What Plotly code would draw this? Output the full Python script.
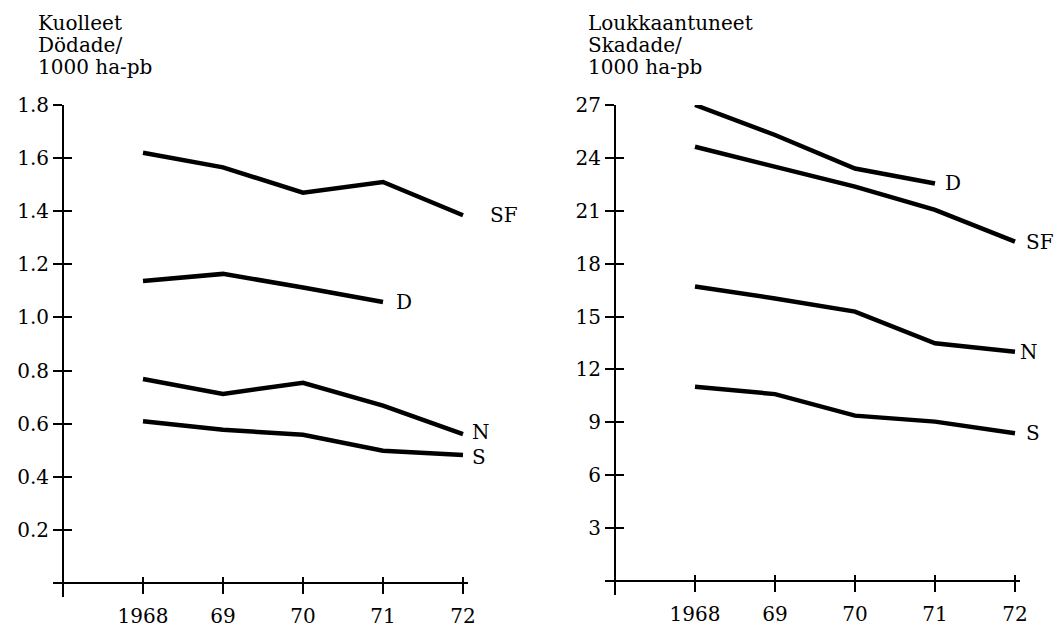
import plotly.graph_objects as go

# ---------------- data ----------------
years = [1968, 1969, 1970, 1971, 1972]
year_labels = ["1968", "69", "70", "71", "72"]

# Left panel: Kuolleet / Dödade per 1000 ha-pb
dead_SF = [1.62, 1.565, 1.47, 1.51, 1.385]
dead_D = [1.137, 1.164, 1.113, 1.058]
dead_N = [0.768, 0.712, 0.754, 0.668, 0.561]
dead_S = [0.609, 0.577, 0.558, 0.498, 0.482]

# Right panel: Loukkaantuneet / Skadade per 1000 ha-pb
inj_D = [27.0, 25.3, 23.4, 22.55]
inj_SF = [24.63, 23.5, 22.37, 21.05, 19.25]
inj_N = [16.7, 16.03, 15.28, 13.48, 13.0]
inj_S = [11.02, 10.6, 9.38, 9.04, 8.38]

left_ticks = [0.2, 0.4, 0.6, 0.8, 1.0, 1.2, 1.4, 1.6, 1.8]
right_ticks = [3, 6, 9, 12, 15, 18, 21, 24, 27]

left_title = ["Kuolleet", "Dödade/", "1000 ha-pb"]
right_title = ["Loukkaantuneet", "Skadade/", "1000 ha-pb"]

# ---------------- layout geometry ----------------
W, H = 1063, 628
OX, OY = 8, 8          # page body margin offset in the browser
FONT = "DejaVu Serif"
FS = 20

def px_x(p):
    return (p - OX) / W

def px_y(p):
    return (H - (p - OY)) / H

fig = go.Figure()

# (label, values, label x-shift px, label y-shift px)
series_left = [("SF", dead_SF, 25, 0), ("D", dead_D, 11, 0), ("N", dead_N, 7, 2), ("S", dead_S, 7, -2)]
series_right = [("D", inj_D, 8, 0), ("SF", inj_SF, 9, 0), ("N", inj_N, 3, 0), ("S", inj_S, 9, 0)]

line_style = dict(color="black", width=4.5)

for name, vals, _, _ in series_left:
    fig.add_trace(go.Scatter(x=years[:len(vals)], y=vals, mode="lines", line=line_style,
                             xaxis="x", yaxis="y", showlegend=False, hoverinfo="skip"))
for name, vals, _, _ in series_right:
    fig.add_trace(go.Scatter(x=years[:len(vals)], y=vals, mode="lines", line=line_style,
                             xaxis="x2", yaxis="y2", showlegend=False, hoverinfo="skip"))
# empty traces to register overlay axes (for crossing ticks)
fig.add_trace(go.Scatter(x=[], y=[], xaxis="x3", yaxis="y3", showlegend=False, hoverinfo="skip"))
fig.add_trace(go.Scatter(x=[], y=[], xaxis="x4", yaxis="y4", showlegend=False, hoverinfo="skip"))

# Left panel pixel geometry (screen pixels)
L_axis_px = 63      # x pixel of y-axis (year 1967)
L_left_px, L_right_px = 53, 468
L_zero_px, L_top_px, L_bot_px = 583, 105, 597
ppy = 80.0
L_xr = [1967 - (L_axis_px - L_left_px) / ppy, 1967 + (L_right_px - L_axis_px) / ppy]
L_ppu = (L_zero_px - L_top_px) / 1.8
L_yr = [-(L_bot_px - L_zero_px) / L_ppu, 1.8]

# Right panel pixel geometry
R_axis_px = 615
R_left_px, R_right_px = 605, 1020
R_zero_px, R_top_px, R_bot_px = 581, 105, 595
R_xr = [1967 - (R_axis_px - R_left_px) / ppy, 1967 + (R_right_px - R_axis_px) / ppy]
R_ppu = (R_zero_px - R_top_px) / 27.0
R_yr = [-(R_bot_px - R_zero_px) / R_ppu, 27.0]

font = dict(family=FONT, size=FS, color="black")

def xax(domain, rng, pos, ticks, showlabels, showline, ticklen):
    return dict(domain=domain, range=rng, anchor="free", position=pos,
                tickvals=years, ticktext=year_labels, ticks=ticks, ticklen=ticklen,
                tickwidth=2, tickcolor="black", showticklabels=showlabels,
                showline=showline, linecolor="black", linewidth=2,
                showgrid=False, zeroline=False, tickfont=font, automargin=False,
                ticklabelstandoff=5, fixedrange=True)

def yax(domain, rng, pos, tickvals, fmt, ticks, showlabels, showline, ticklen):
    return dict(domain=domain, range=rng, anchor="free", position=pos,
                tickvals=tickvals, tickformat=fmt, ticks=ticks, ticklen=ticklen,
                tickwidth=2, tickcolor="black", showticklabels=showlabels,
                showline=showline, linecolor="black", linewidth=2,
                showgrid=False, zeroline=False, tickfont=font, automargin=False,
                fixedrange=True)

L_xdom = [px_x(L_left_px), px_x(L_right_px)]
L_ydom = [px_y(L_bot_px), px_y(L_top_px)]
R_xdom = [px_x(R_left_px), px_x(R_right_px)]
R_ydom = [px_y(R_bot_px), px_y(R_top_px)]

fig.update_layout(
    template="none",
    width=W, height=H, autosize=False,
    margin=dict(l=0, r=0, t=0, b=0, pad=0),
    paper_bgcolor="white", plot_bgcolor="rgba(0,0,0,0)",
    font=font,
    xaxis=xax(L_xdom, L_xr, px_y(L_zero_px), "outside", True, True, 10),
    yaxis=yax(L_ydom, L_yr, px_x(L_axis_px), left_ticks, ".1f", "outside", True, True, 9),
    xaxis2=xax(R_xdom, R_xr, px_y(R_zero_px), "outside", True, True, 10),
    yaxis2=yax(R_ydom, R_yr, px_x(R_axis_px), right_ticks, "d", "outside", True, True, 9),
    xaxis3=dict(xax(L_xdom, L_xr, px_y(L_zero_px), "inside", False, False, 6), overlaying="x"),
    yaxis3=dict(yax(L_ydom, L_yr, px_x(L_axis_px), left_ticks, ".1f", "inside", False, False, 8), overlaying="y"),
    xaxis4=dict(xax(R_xdom, R_xr, px_y(R_zero_px), "inside", False, False, 6), overlaying="x2"),
    yaxis4=dict(yax(R_ydom, R_yr, px_x(R_axis_px), right_ticks, "d", "inside", False, False, 8), overlaying="y2"),
)

# series labels at line ends (anchored on last point, shifted in pixels)
for name, vals, dx, dy in series_left:
    fig.add_annotation(x=years[len(vals) - 1], y=vals[-1], xref="x", yref="y", xshift=dx, yshift=dy,
                       text=name, showarrow=False, xanchor="left", yanchor="middle", font=font)
for name, vals, dx, dy in series_right:
    fig.add_annotation(x=years[len(vals) - 1], y=vals[-1], xref="x2", yref="y2", xshift=dx, yshift=dy,
                       text=name, showarrow=False, xanchor="left", yanchor="middle", font=font)

# panel titles (one line each)
line_tops = [9, 31, 53]
for i, t in enumerate(left_title):
    fig.add_annotation(x=px_x(36), y=px_y(line_tops[i]), xref="paper", yref="paper", text=t,
                       showarrow=False, xanchor="left", yanchor="top", font=font)
for i, t in enumerate(right_title):
    fig.add_annotation(x=px_x(586), y=px_y(line_tops[i]), xref="paper", yref="paper", text=t,
                       showarrow=False, xanchor="left", yanchor="top", font=font)

fig.write_html("out.html")
